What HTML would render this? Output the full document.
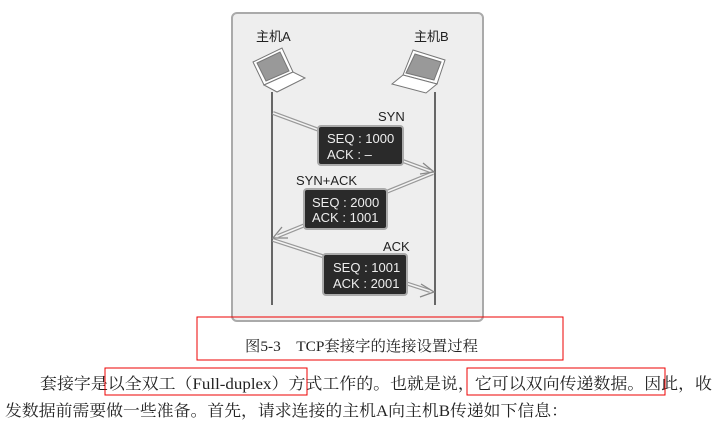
<!DOCTYPE html>
<html><head><meta charset="utf-8"><style>
html,body{margin:0;padding:0;background:#fff;}
svg{display:block}
text{font-family:"Liberation Sans","Noto Sans CJK SC",sans-serif;}
.s{font-family:"Liberation Serif","Noto Serif CJK SC",serif;}
</style></head><body>
<svg width="725" height="424" viewBox="0 0 725 424" xmlns="http://www.w3.org/2000/svg">
<rect x="232" y="13" width="251" height="308" rx="5" fill="#eeeeee" stroke="#aaa" stroke-width="2"/>
<text x="256" y="41" font-size="13" fill="#222">主机A</text>
<text x="414" y="41" font-size="13" fill="#222">主机B</text>
<g stroke="#777" stroke-width="1" fill="#fff">
<polygon points="253,62 282,48 293,72 264,85"/>
<polygon points="257,63 280,52 289,71 266,81" fill="#999"/>
<polygon points="264,85 293,72 305,78 277,92"/>
<polygon points="403,75 413,50 445,60 437,84"/>
<polygon points="406,73 415,54 441,62 434,80" fill="#999"/>
<polygon points="403,75 437,84 426,93 392,84"/>
</g>
<line x1="272" y1="92" x2="272" y2="305" stroke="#666" stroke-width="2"/>
<line x1="435" y1="92" x2="435" y2="305" stroke="#666" stroke-width="2"/>
<g stroke="#999" stroke-width="4" fill="none"><line x1="273" y1="113" x2="430" y2="171"/><line x1="433" y1="173" x2="278" y2="236"/><line x1="273" y1="240" x2="430" y2="291"/></g>
<g stroke="#f4f4f4" stroke-width="1.5" fill="none"><line x1="273" y1="113" x2="430" y2="171"/><line x1="433" y1="173" x2="278" y2="236"/><line x1="273" y1="240" x2="430" y2="291"/></g>
<g stroke="#888" stroke-width="1.3" fill="none">
<path d="M423,163 L434,172 L420,174"/>
<path d="M282,227 L273,238 L288,238"/>
<path d="M421,284 L434,292 L420,297"/>
</g>
<text x="378" y="121" font-size="13" fill="#222">SYN</text>
<rect x="318" y="126" width="85" height="39" rx="3" fill="#2a2a2a" stroke="#aaa" stroke-width="2"/>
<text x="327" y="143" font-size="13" fill="#eee">SEQ : 1000</text>
<text x="327" y="159" font-size="13" fill="#eee">ACK :   –</text>
<text x="296" y="185" font-size="13" fill="#222">SYN+ACK</text>
<rect x="304" y="189" width="83" height="40" rx="3" fill="#2a2a2a" stroke="#aaa" stroke-width="2"/>
<text x="312" y="207" font-size="13" fill="#eee">SEQ : 2000</text>
<text x="312" y="222" font-size="13" fill="#eee">ACK : 1001</text>
<text x="383" y="251" font-size="13" fill="#222">ACK</text>
<rect x="323" y="254" width="84" height="41" rx="3" fill="#2a2a2a" stroke="#aaa" stroke-width="2"/>
<text x="333" y="272" font-size="13" fill="#eee">SEQ : 1001</text>
<text x="333" y="288" font-size="13" fill="#eee">ACK : 2001</text>
<rect x="197" y="317" width="366" height="43" fill="none" stroke="#e00" stroke-width="1"/>
<text class="s" x="245" y="351" font-size="15" fill="#222" textLength="233" lengthAdjust="spacingAndGlyphs">图5-3　TCP套接字的连接设置过程</text>
<text class="s" x="40" y="389" font-size="16" fill="#222" textLength="672" lengthAdjust="spacingAndGlyphs">套接字是以全双工（Full-duplex）方式工作的。也就是说，它可以双向传递数据。因此，收</text>
<text class="s" x="5" y="416" font-size="16" fill="#222" textLength="563" lengthAdjust="spacingAndGlyphs">发数据前需要做一些准备。首先，请求连接的主机A向主机B传递如下信息：</text>
<rect x="105" y="368" width="202" height="27" fill="none" stroke="#e00" stroke-width="1"/>
<rect x="467" y="368" width="198" height="27" fill="none" stroke="#e00" stroke-width="1"/>
</svg>
</body></html>
